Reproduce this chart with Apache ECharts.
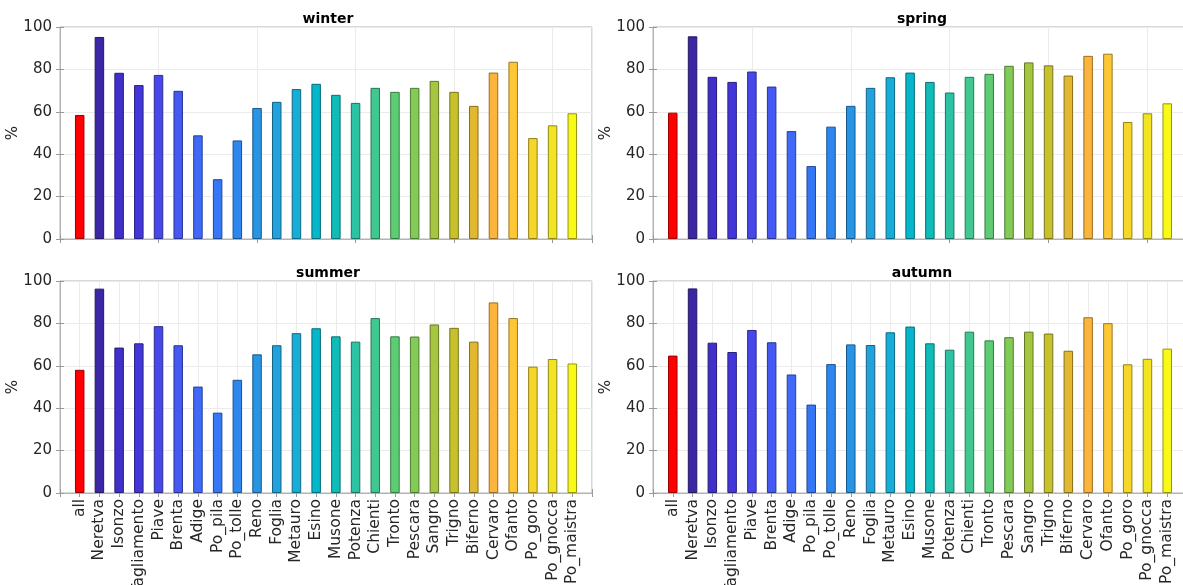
<!DOCTYPE html>
<html>
<head>
<meta charset="utf-8">
<script src="https://cdn.jsdelivr.net/npm/echarts@6/dist/echarts.min.js"></script>
<style>
  html, body { margin: 0; padding: 0; background: #ffffff; }
  #chart { width: 1183px; height: 585px; }
</style>
</head>
<body>
<div id="chart"></div>
<script>
// Stations (x positions 1..26)
const stations = ['all', 'Neretva', 'Isonzo', 'Tagliamento', 'Piave', 'Brenta', 'Adige', 'Po_pila',
  'Po_tolle', 'Reno', 'Foglia', 'Metauro', 'Esino', 'Musone', 'Potenza', 'Chienti', 'Tronto',
  'Pescara', 'Sangro', 'Trigno', 'Biferno', 'Cervaro', 'Ofanto', 'Po_goro', 'Po_gnocca', 'Po_maistra'];

// Percentage per station, one array per season
const winter = [58.5, 95.3, 78.4, 72.6, 77.4, 69.9, 48.9, 28.2, 46.5, 61.8, 64.7, 70.7, 73.2,
  68.0, 64.2, 71.3, 69.4, 71.3, 74.6, 69.4, 62.8, 78.5, 83.6, 47.6, 53.6, 59.3];
const spring = [59.6, 95.6, 76.5, 74.1, 79.0, 71.9, 50.9, 34.4, 53.0, 62.8, 71.3, 76.3, 78.5,
  74.1, 69.1, 76.5, 77.9, 81.7, 83.3, 81.9, 77.1, 86.4, 87.4, 55.2, 59.3, 64.0];
const summer = [58.1, 96.4, 68.6, 70.6, 78.7, 69.7, 50.2, 37.9, 53.4, 65.4, 69.7, 75.4, 77.7,
  73.9, 71.4, 82.5, 73.9, 73.8, 79.5, 77.9, 71.4, 89.9, 82.5, 59.6, 63.2, 61.1];
const autumn = [64.8, 96.5, 70.9, 66.5, 76.9, 71.1, 55.9, 41.7, 60.8, 70.1, 69.8, 75.8, 78.5,
  70.6, 67.6, 76.1, 72.0, 73.5, 76.1, 75.2, 67.1, 82.9, 80.1, 60.7, 63.3, 68.1];

const seasonNames = ['winter', 'spring', 'summer', 'autumn'];
const seasonValues = [winter, spring, summer, autumn];
const yTicks = [0, 20, 40, 60, 80, 100];

// Bar fill colours: red for the aggregate, then a parula-like ramp
const barColors = ['#ff0000', '#3b27a4', '#402fc8', '#4337d9', '#4747ea', '#4559f2', '#4169f8',
  '#3577f6', '#2d87ee', '#2894e4', '#22a1dd', '#17add9', '#06b6ca', '#0fbcb8', '#2cc2a4',
  '#40c890', '#5dcc72', '#82cb56', '#a5c63e', '#c8c12e', '#e1b830', '#fbb43c', '#fdc735',
  '#f5d629', '#f0e423', '#f9f918'];

function darker(hex, f) {
  const n = parseInt(hex.slice(1), 16);
  const r = Math.round(((n >> 16) & 255) * f);
  const g = Math.round(((n >> 8) & 255) * f);
  const b = Math.round((n & 255) * f);
  return 'rgb(' + r + ',' + g + ',' + b + ')';
}

const FONT = 'DejaVu Sans';
const boxColor = '#b3b3b3';
const gridColor = '#ebebeb';
const textColor = '#262626';

// Panel placement
const panels = [
  { left: 60, top: 27, width: 532, height: 212 },
  { left: 653, top: 27, width: 534, height: 212 },
  { left: 60, top: 281, width: 532, height: 212 },
  { left: 653, top: 281, width: 534, height: 212 }
];

const grids = [], xAxes = [], yAxes = [], series = [], titles = [];

panels.forEach((p, i) => {
  const bottomRow = i >= 2;
  const step = bottomRow ? 1 : 5;
  grids.push({
    left: p.left, top: p.top, width: p.width, height: p.height,
    containLabel: false, outerBoundsMode: 'none',
    show: true, borderColor: boxColor, borderWidth: 1, backgroundColor: 'transparent'
  });
  titles.push({
    text: seasonNames[i],
    left: p.left + p.width / 2 - 3, top: p.top - 20, textAlign: 'center',
    textStyle: { fontFamily: FONT, fontSize: 14, fontWeight: 'bold', color: '#000' }
  });
  // bottom x axis
  xAxes.push({
    gridIndex: i, type: 'value', min: 0, max: 27, interval: step,
    axisLine: { show: true, lineStyle: { color: boxColor } },
    axisTick: { show: true, inside: true, length: 4, lineStyle: { color: '#999' } },
    splitLine: { show: true, lineStyle: { color: gridColor } },
    axisLabel: {
      show: bottomRow, rotate: 90, margin: 6, fontFamily: FONT, fontSize: 15.5, color: textColor,
      formatter: v => (v >= 1 && v <= stations.length) ? stations[v - 1] : ''
    }
  });
  // top x axis (ticks only)
  xAxes.push({
    gridIndex: i, type: 'value', position: 'top', min: 0, max: 27, interval: step,
    axisLine: { show: false },
    axisTick: { show: true, inside: true, length: 4, lineStyle: { color: '#999' } },
    splitLine: { show: false }, axisLabel: { show: false }
  });
  // left y axis
  yAxes.push({
    gridIndex: i, type: 'value', min: 0, max: 100, interval: 20,
    name: '%', nameLocation: 'middle', nameRotate: 90, nameGap: 39, nameMoveOverlap: false,
    nameTextStyle: { fontFamily: FONT, fontSize: 15, color: textColor },
    axisLine: { show: true, lineStyle: { color: boxColor } },
    axisTick: { show: true, inside: true, length: 4, lineStyle: { color: '#999' } },
    splitLine: { show: true, lineStyle: { color: gridColor } },
    axisLabel: {
      fontFamily: FONT, fontSize: 15, color: textColor, margin: 8,
      formatter: v => yTicks.includes(v) ? String(v) : ''
    }
  });
  // right y axis (ticks only)
  yAxes.push({
    gridIndex: i, type: 'value', position: 'right', min: 0, max: 100, interval: 20,
    axisLine: { show: false },
    axisTick: { show: true, inside: true, length: 4, lineStyle: { color: '#999' } },
    splitLine: { show: false }, axisLabel: { show: false }
  });
  series.push({
    type: 'bar',
    xAxisIndex: i * 2, yAxisIndex: i * 2,
    barWidth: 9.5,
    data: seasonValues[i].map((v, k) => ({
      value: [k + 1, v],
      itemStyle: { color: barColors[k], borderColor: darker(barColors[k], 0.6), borderWidth: 1 }
    })),
    silent: true
  });
});

const chart = echarts.init(document.getElementById('chart'), null, { renderer: 'canvas' });
chart.setOption({
  animation: false,
  backgroundColor: '#ffffff',
  title: titles,
  grid: grids,
  xAxis: xAxes,
  yAxis: yAxes,
  series: series
});
</script>
</body>
</html>
